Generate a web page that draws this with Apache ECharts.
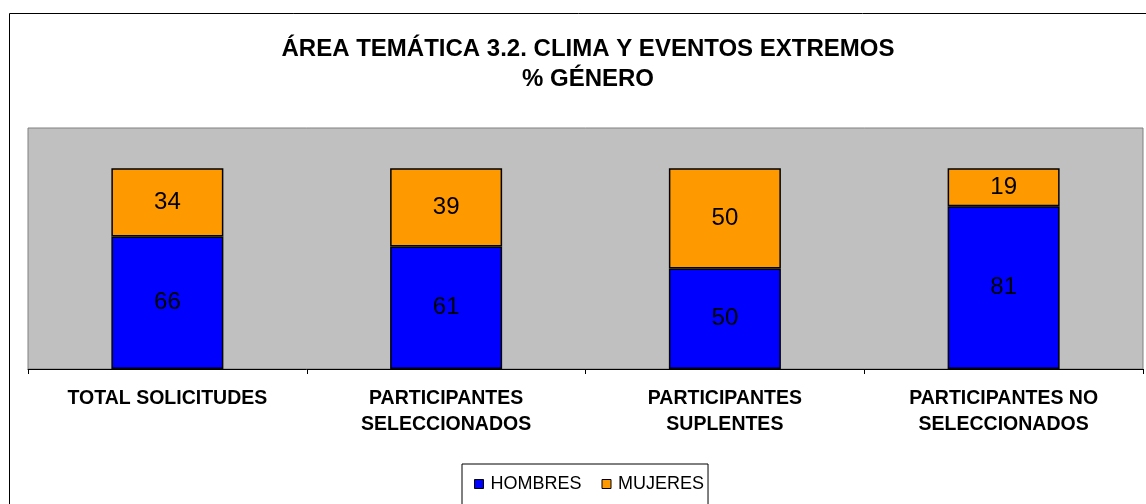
<!DOCTYPE html>
<html>
<head>
<meta charset="utf-8">
<script src="https://cdn.jsdelivr.net/npm/echarts@6/dist/echarts.min.js"></script>
<style>
html,body{margin:0;padding:0;background:#fff}
#chart{width:1146px;height:504px}
</style>
</head>
<body>
<div id="chart"></div>
<script>
// datos del grafico
var categorias = ['TOTAL SOLICITUDES', 'PARTICIPANTES\nSELECCIONADOS', 'PARTICIPANTES\nSUPLENTES', 'PARTICIPANTES NO\nSELECCIONADOS'];
var hombres = [66, 61, 50, 81];
var mujeres = [34, 39, 50, 19];
var series_nombres = ['HOMBRES', 'MUJERES'];

var myChart = echarts.init(document.getElementById('chart'));
var fuente = 'Liberation Sans, Arial, sans-serif';

var option = {
	backgroundColor: '#fff',
	animation: false,
	title: {
		text: 'ÁREA TEMÁTICA 3.2. CLIMA Y EVENTOS EXTREMOS\n% GÉNERO',
		left: 583,
		textAlign: 'center',
		top: 29,
		textStyle: {
			fontFamily: fuente,
			fontSize: 24,
			fontWeight: 'bold',
			color: '#000',
			lineHeight: 30
		}
	},
	graphic: [{
		type: 'rect',
		shape: {x: 9.5, y: 13.5, width: 1150, height: 500},
		style: {fill: 'none', stroke: '#000', lineWidth: 1},
		silent: true
	}],
	legend: {
		data: series_nombres,
		left: 462,
		top: 464,
		icon: 'rect',
		itemWidth: 9,
		itemHeight: 9,
		itemGap: 20,
		padding: [11, 4, 14, 12],
		borderColor: '#000',
		borderWidth: 1,
		backgroundColor: '#fff',
		itemStyle: {borderColor: '#000', borderWidth: 1},
		textStyle: {fontFamily: fuente, fontSize: 18, color: '#000', padding: [0, 0, 0, 2]}
	},
	grid: {
		left: 28,
		right: 3,
		top: 128,
		bottom: 135,
		show: true,
		backgroundColor: '#c0c0c0',
		borderColor: '#808080',
		borderWidth: 1
	},
	xAxis: {
		type: 'category',
		data: categorias,
		axisLine: {lineStyle: {color: '#000', width: 1}},
		axisTick: {show: true, length: 5, lineStyle: {color: '#000'}},
		axisLabel: {
			interval: 0,
			margin: 17,
			fontFamily: fuente,
			fontSize: 19.5,
			fontWeight: 'bold',
			color: '#000',
			lineHeight: 26
		}
	},
	yAxis: {
		type: 'value',
		min: 0,
		max: 120,
		interval: 20,
		show: false,
		splitLine: {show: false}
	},
	series: [{
		name: series_nombres[0],
		type: 'bar',
		stack: 'total',
		barWidth: 112,
		data: hombres,
		itemStyle: {color: '#0000ff', borderColor: '#000', borderWidth: 1.5},
		label: {show: true, position: 'inside', fontFamily: fuente, fontSize: 24, color: '#000'}
	}, {
		name: series_nombres[1],
		type: 'bar',
		stack: 'total',
		barWidth: 112,
		data: mujeres,
		itemStyle: {color: '#ff9900', borderColor: '#000', borderWidth: 1.5},
		label: {show: true, position: 'inside', fontFamily: fuente, fontSize: 24, color: '#000'}
	}]
};
myChart.setOption(option);
</script>
</body>
</html>
